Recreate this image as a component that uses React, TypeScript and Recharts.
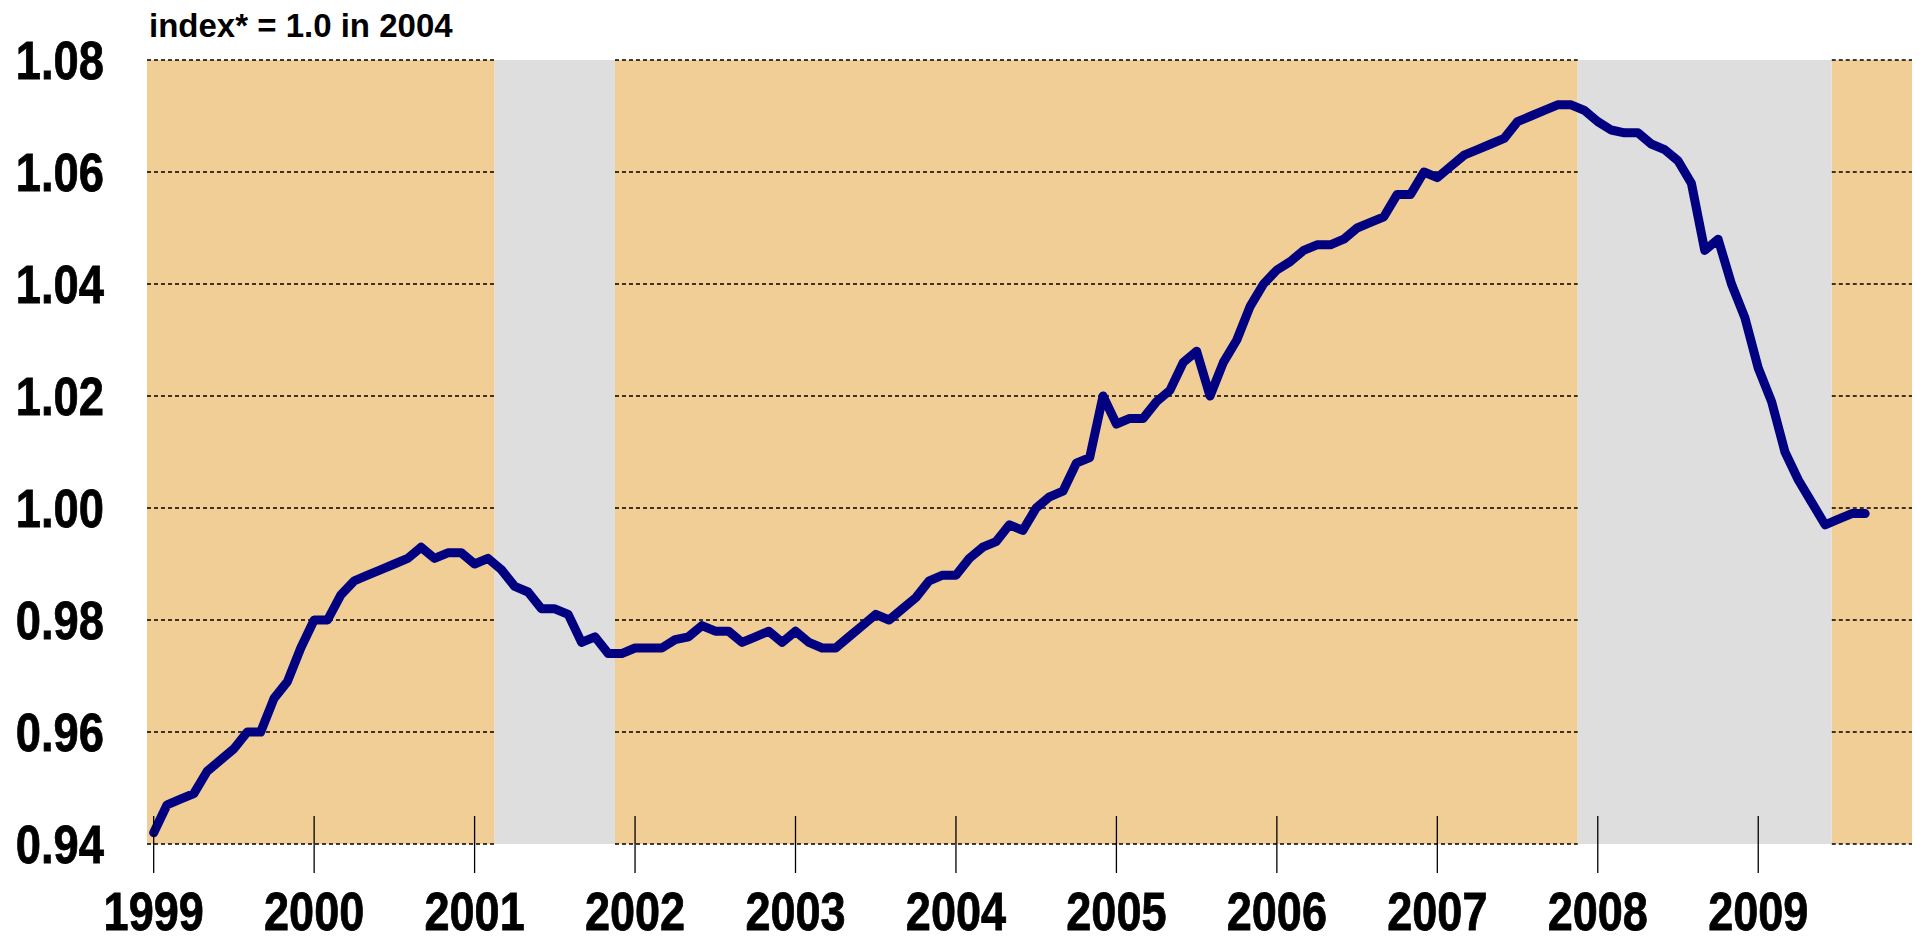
import React from 'react';
import { LineChart, Line, XAxis, YAxis, ReferenceArea, ReferenceLine } from 'recharts';

// Monthly index, Jan 1999 (month 0) .. Sep 2009 (month 128)
const indexValues: number[] = [
  0.942, 0.947, 0.948, 0.949, 0.953, 0.955, 0.957, 0.960, 0.960, 0.966, 0.969, 0.975,
  0.980, 0.980, 0.9845, 0.987, 0.988, 0.989, 0.990, 0.991, 0.993, 0.991, 0.992, 0.992,
  0.990, 0.991, 0.989, 0.986, 0.985, 0.982, 0.982, 0.981, 0.976, 0.977, 0.974, 0.974,
  0.975, 0.975, 0.975, 0.9765, 0.977, 0.979, 0.978, 0.978, 0.976, 0.977, 0.978, 0.976,
  0.978, 0.976, 0.975, 0.975, 0.977, 0.979, 0.981, 0.980, 0.982, 0.984, 0.987, 0.988,
  0.988, 0.991, 0.993, 0.994, 0.997, 0.996, 1.000, 1.002, 1.003, 1.008, 1.009, 1.020,
  1.015, 1.016, 1.016, 1.019, 1.021, 1.026, 1.028, 1.020, 1.026, 1.030, 1.036, 1.040,
  1.0425, 1.044, 1.046, 1.047, 1.047, 1.048, 1.050, 1.051, 1.052, 1.056, 1.056, 1.060,
  1.059, 1.061, 1.063, 1.064, 1.065, 1.066, 1.069, 1.070, 1.071, 1.072, 1.072, 1.071,
  1.069, 1.0675, 1.067, 1.067, 1.065, 1.064, 1.062, 1.058, 1.046, 1.048, 1.040, 1.034,
  1.025, 1.019, 1.010, 1.005, 1.001, 0.997, 0.998, 0.999, 0.999,
];

const yearTicks: number[] = [0, 12, 24, 36, 48, 60, 72, 84, 96, 108, 120];
const yearLabels: string[] = ['1999', '2000', '2001', '2002', '2003', '2004', '2005', '2006', '2007', '2008', '2009'];
const valueTicks: number[] = [0.94, 0.96, 0.98, 1.0, 1.02, 1.04, 1.06, 1.08];
const xDomain: [number, number] = [-0.5, 131.5];
const recessionStarts: number[] = [25.5, 106.5];
const recessionEnds: number[] = [34.5, 125.5];
const expansionStarts: number[] = [-0.5, 34.5, 125.5];
const expansionEnds: number[] = [25.5, 106.5, 131.5];
const titleText = 'index* = 1.0 in 2004';

const data = indexValues.map((v, i) => ({ m: i, v }));

const FONT = "'Liberation Sans', Arial, Helvetica, sans-serif";

const XTick = (props: any) => {
  const { x, y, payload } = props;
  const idx = yearTicks.indexOf(payload.value);
  const label = idx >= 0 ? yearLabels[idx] : '';
  return (
    <g>
      <line x1={x} x2={x} y1={y - 28} y2={y + 29} stroke="#000" strokeWidth={1.3} />
      <g transform={`translate(${x},${y + 86}) scale(0.85,1)`}>
        <text x={0} y={0} textAnchor="middle" fontFamily={FONT} fontWeight="bold" fontSize={53} fill="#000" stroke="#000" strokeWidth={0.8}>
          {label}
        </text>
      </g>
    </g>
  );
};

const YTick = (props: any) => {
  const { x, y, payload } = props;
  return (
    <g transform={`translate(${x - 43},${y + 19}) scale(0.84,1)`}>
      <text x={0} y={0} textAnchor="end" fontFamily={FONT} fontWeight="bold" fontSize={54} fill="#000" stroke="#000" strokeWidth={0.8}>
        {Number(payload.value).toFixed(2)}
      </text>
    </g>
  );
};

export default function App() {
  return (
    <div style={{ position: 'absolute', left: 0, top: 0, width: 1920, height: 942, background: '#fff' }}>
      <div
        style={{
          position: 'absolute',
          left: 149,
          top: 9,
          fontFamily: FONT,
          fontWeight: 'bold',
          fontSize: 33,
          lineHeight: '33px',
          color: '#000',
          whiteSpace: 'nowrap',
        }}
      >
        {titleText}
      </div>
      <LineChart width={1920} height={942} data={data} margin={{ top: 60, right: 8, bottom: 0, left: 0 }}>
        {expansionStarts.map((s, i) => (
          <ReferenceArea key={`e${i}`} x1={s} x2={expansionEnds[i]} fill="#F2CE97" fillOpacity={1} stroke="none" />
        ))}
        {recessionStarts.map((s, i) => (
          <ReferenceArea key={`r${i}`} x1={s} x2={recessionEnds[i]} fill="#DEDEDE" fillOpacity={1} stroke="none" />
        ))}
        {valueTicks.map((t) =>
          expansionStarts.map((s, i) => (
            <ReferenceLine
              key={`g${t}-${i}`}
              segment={[
                { x: s, y: t },
                { x: expansionEnds[i], y: t },
              ]}
              stroke="#000"
              strokeWidth={1.5}
              strokeDasharray="4 3"
            />
          ))
        )}
        <XAxis
          dataKey="m"
          type="number"
          domain={xDomain}
          ticks={yearTicks}
          allowDataOverflow
          axisLine={false}
          tickLine={false}
          tickSize={0}
          tickMargin={0}
          height={98}
          tick={<XTick />}
          interval={0}
        />
        <YAxis
          type="number"
          domain={[valueTicks[0], valueTicks[valueTicks.length - 1]]}
          ticks={valueTicks}
          allowDataOverflow
          axisLine={false}
          tickLine={false}
          tickSize={0}
          tickMargin={0}
          width={147}
          tick={<YTick />}
          interval={0}
        />
        <Line
          type="linear"
          dataKey="v"
          stroke="#000080"
          strokeWidth={9}
          strokeLinejoin="round"
          strokeLinecap="round"
          dot={false}
          isAnimationActive={false}
        />
      </LineChart>
    </div>
  );
}
